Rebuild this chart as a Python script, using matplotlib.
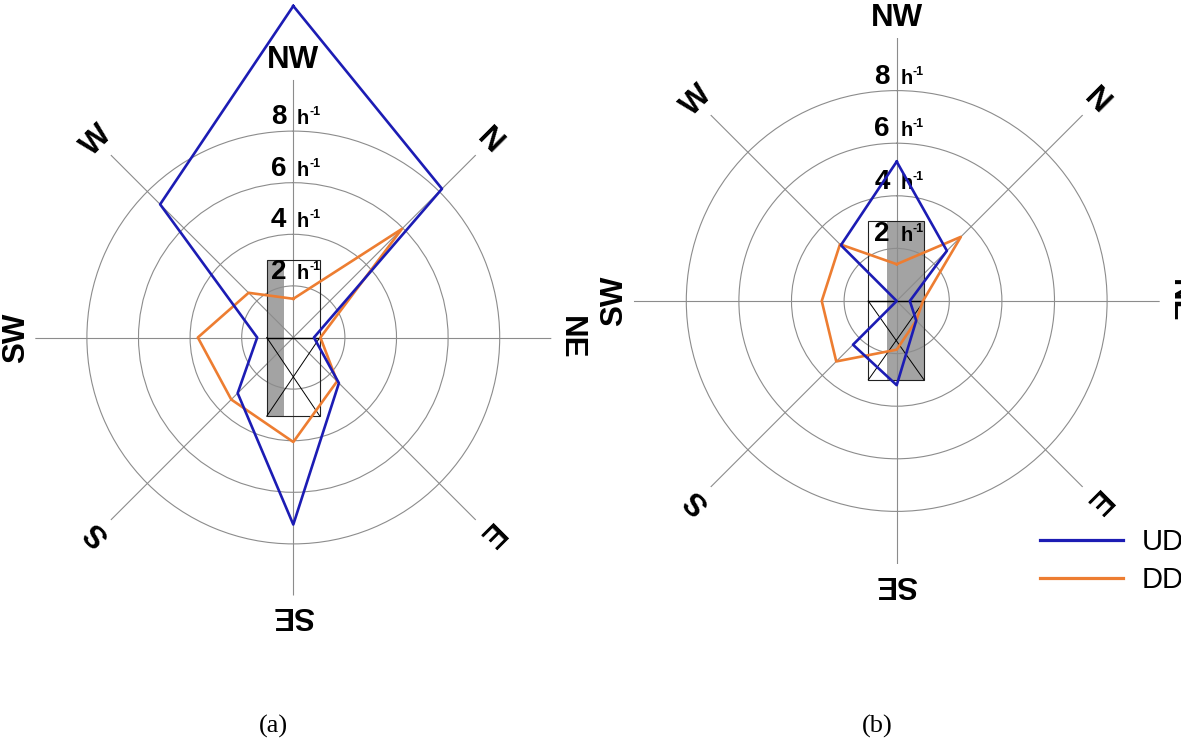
import numpy as np
import matplotlib
matplotlib.use("Agg")
import matplotlib.pyplot as plt
from matplotlib.patches import Rectangle
from matplotlib.lines import Line2D
from matplotlib.transforms import Affine2D

# Wind-sector categories, clockwise starting at the top of each rose
directions = ["NW", "N", "NE", "E", "SE", "S", "SW", "W"]
ring_values = [2, 4, 6, 8]
ring_unit = "h"
ring_unit_power = "-1"

# Rates per direction (h^-1)
ud_a = [12.85, 8.15, 0.8, 2.5, 7.25, 3.05, 1.4, 7.3]
dd_a = [1.5, 5.95, 1.05, 2.4, 4.05, 3.4, 3.7, 2.45]
ud_b = [5.3, 2.7, 0.5, 1.05, 3.2, 2.35, 0.0, 3.0]
dd_b = [1.4, 3.45, 1.0, 1.05, 1.85, 3.25, 2.85, 3.05]

series_names = ["UD", "DD"]
series_colors = ["#1c1cb4", "#ed7d31"]
panel_titles = ["(a)", "(b)"]

plt.rcParams["font.family"] = ["Liberation Sans", "DejaVu Sans"]

W, H = 1181, 742
fig = plt.figure(figsize=(W / 100, H / 100), dpi=100)

R_MAX = 10
GRID_COLOR = "#8c8c8c"


def rose(cx, cy, r_px, ud, dd, box, title, title_x):
    rect = [(cx - r_px) / W, (H - cy - r_px) / H, 2 * r_px / W, 2 * r_px / H]
    ax = fig.add_axes(rect, projection="polar")
    ax.set_theta_zero_location("N")
    ax.set_theta_direction(-1)
    ax.set_ylim(0, R_MAX)
    ax.spines["polar"].set_visible(False)
    ax.patch.set_alpha(0)

    theta = np.deg2rad(np.arange(len(directions)) * 360 / len(directions))
    ax.set_xticks(theta)
    ax.set_xticklabels([])
    ax.set_yticks(ring_values)
    ax.set_yticklabels([])
    ax.grid(True, color=GRID_COLOR, linewidth=0.8)

    # framed block in the middle of the rose (units of r, cartesian)
    tf = Affine2D().scale(1 / (2 * R_MAX)).translate(0.5, 0.5) + ax.transAxes
    x0, x1, y0, y1, g0, g1 = box
    ax.add_patch(Rectangle((x0, y0), x1 - x0, y1 - y0, transform=tf,
                           facecolor="white", edgecolor="none", zorder=0.9))
    ax.add_patch(Rectangle((g0, y0), g1 - g0, y1 - y0, transform=tf,
                           facecolor="#a3a3a3", edgecolor="none", zorder=1.0))
    ax.add_patch(Rectangle((x0, y0), x1 - x0, y1 - y0, transform=tf,
                           facecolor="none", edgecolor="#222222", linewidth=0.8,
                           zorder=1.6))
    ax.add_line(Line2D([x0, x1], [0, 0], transform=tf, color="black",
                       linewidth=1.0, zorder=1.6))
    ax.add_line(Line2D([x0, x1], [0, y0], transform=tf, color="black",
                       linewidth=0.7, zorder=1.6))
    ax.add_line(Line2D([x1, x0], [0, y0], transform=tf, color="black",
                       linewidth=0.7, zorder=1.6))

    closed = np.append(theta, theta[0])
    for vals, col in zip([ud, dd][::-1], series_colors[::-1]):
        ax.plot(closed, np.append(vals, vals[0]), color=col, linewidth=1.9,
                clip_on=False, zorder=3)

    # ring labels along the upper spoke
    for k in ring_values:
        ax.annotate(str(k), xy=(0, k), xytext=(-5, 5), textcoords="offset points",
                    ha="right", va="baseline", fontsize=20, fontweight="bold",
                    zorder=2.5)
        ax.annotate(ring_unit, xy=(0, k), xytext=(2.5, 5), textcoords="offset points",
                    ha="left", va="baseline", fontsize=14.5, fontweight="bold",
                    zorder=2.5)
        ax.annotate(ring_unit_power, xy=(0, k), xytext=(11.6, 11.5),
                    textcoords="offset points", ha="left", va="baseline",
                    fontsize=9, fontweight="bold", zorder=2.5)

    # direction names, tops pointing outward
    for t, name in zip(theta, directions):
        ax.text(t, 10.75, name, rotation=-np.rad2deg(t), rotation_mode="anchor",
                ha="center", va="center", fontsize=22.5, fontweight="bold",
                clip_on=False)

    fig.text(title_x / W, 1 - 726 / H, title, ha="center", va="center",
             fontsize=19, family="Liberation Serif")
    return ax


rose(293.3, 337.5, 258, ud_a, dd_a, (-1.03, 1.03, -3.05, 3.0, -1.03, -0.36),
     panel_titles[0], 273)
rose(896.7, 301.0, 263, ud_b, dd_b, (-1.08, 1.04, -3.0, 3.05, -0.36, 1.04),
     panel_titles[1], 877)

handles = [Line2D([], [], color=c, linewidth=2.3) for c in series_colors]
fig.legend(handles, series_names, loc="upper left",
           bbox_to_anchor=(1040 / W, 1 - 528 / H), frameon=False, fontsize=21,
           handlelength=2.86, handletextpad=0.64, borderpad=0, borderaxespad=0,
           labelspacing=0.36)

fig.savefig("out.png", dpi=100)
